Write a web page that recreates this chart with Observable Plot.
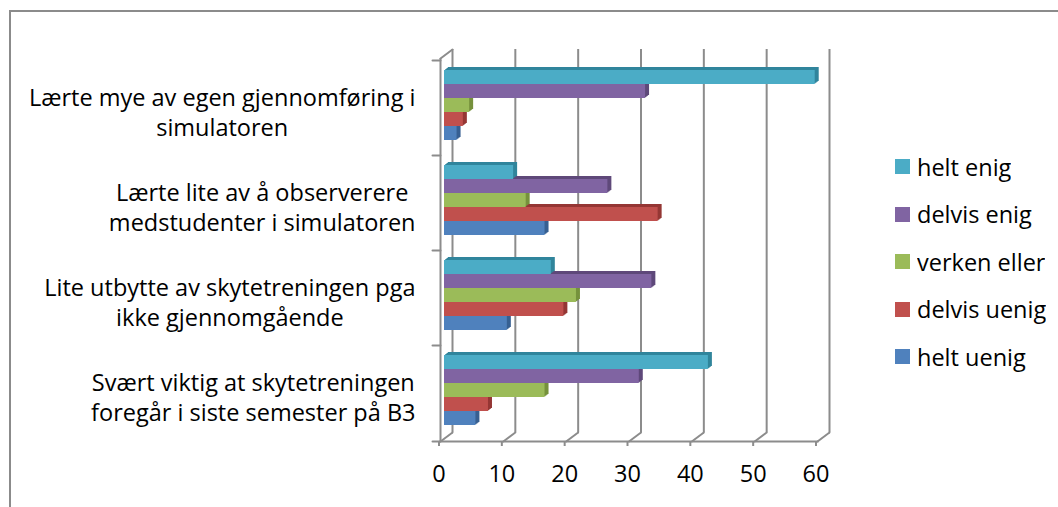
<!DOCTYPE html>
<html>
<head>
<meta charset="utf-8">
<script src="https://cdn.jsdelivr.net/npm/d3@7"></script>
<script src="https://cdn.jsdelivr.net/npm/@observablehq/plot@0.6"></script>
<style>
  html, body { margin: 0; padding: 0; background: #fff; }
  #wrap { position: relative; width: 1058px; height: 507px; overflow: hidden; font-family: "Open Sans", sans-serif; }
  #border { position: absolute; left: 9px; top: 10px; right: -4px; bottom: -4px; border-top: 2px solid #8b8b8b; border-left: 2px solid #8b8b8b; }
  .layer { position: absolute; left: 0; top: 0; }
  #legend { position: absolute; left: 895px; top: 143px; }
  .lg-swatch { height: 47.5px !important; padding: 0 !important; margin: 0 !important; display: flex !important; align-items: center !important; }
  .lg-swatch svg { margin-right: 7px !important; }
  .lg-swatches { font-family: "Open Sans", sans-serif !important; font-size: 23.5px !important; color: #000 !important; margin: 0 !important; }
</style>
</head>
<body>
<div id="wrap"><div id="border"></div><div id="walls" class="layer"></div><div id="bars" class="layer"></div><div id="legend"></div></div>
<script>
// ---- data ----
const categories = [
  "Lærte mye av egen gjennomføring i\nsimulatoren",
  "Lærte lite av å observerere\nmedstudenter i simulatoren",
  "Lite utbytte av skytetreningen pga\nikke gjennomgående",
  "Svært viktig at skytetreningen\nforegår i siste semester på B3"
];
const series = ["helt enig", "delvis enig", "verken eller", "delvis uenig", "helt uenig"];
const heltEnig    = [59, 11, 17, 42];
const delvisEnig  = [32, 26, 33, 31];
const verkenEller = [4, 13, 21, 16];
const delvisUenig = [3, 34, 19, 7];
const heltUenig   = [2, 16, 10, 5];
const xTicks = [0, 10, 20, 30, 40, 50, 60];

// ---- styles ----
const colors = ["#4BACC6", "#8064A2", "#9BBB59", "#C0504D", "#4F81BD"];
const darks  = ["#31859C", "#5F497A", "#76923C", "#953735", "#376092"];
const gridColor = "#8c8c8c";
const FONT = 23.5, FAMILY = "Open Sans";

const seriesValues = [heltEnig, delvisEnig, verkenEller, delvisUenig, heltUenig];
const data = categories.flatMap((c, i) => series.map((s, j) => ({category: c, series: s, value: seriesValues[j][i]})));
const darkOf = new Map(series.map((s, j) => [s, darks[j]]));

// 3D depth of the wall
const DX = 12, DY = -9;
const ang = Math.atan2(DX, -DY) * 180 / Math.PI;
const len = Math.hypot(DX, DY);
const lineShape = {draw(ctx, l) { ctx.moveTo(0, 0); ctx.lineTo(0, -l); }};
const lineOpts = {shape: lineShape, anchor: "start", stroke: gridColor, strokeWidth: 2};

const frameOpts = {
  width: 1058, height: 507,
  marginLeft: 440, marginRight: 241, marginTop: 58, marginBottom: 66,
  style: {fontFamily: FAMILY, fontSize: FONT + "px", background: "transparent", color: "#000", overflow: "visible"},
  x: {domain: [0, 60]}
};

// ---- layer 1: walls, gridlines, axis ----
const walls = Plot.plot({
  ...frameOpts,
  marks: [
    Plot.ruleX(xTicks, {x: d => d, stroke: gridColor, strokeWidth: 2, dx: DX, dy: DY}),
    Plot.vector(xTicks, {x: d => d, frameAnchor: "bottom", rotate: ang, length: len, ...lineOpts}),
    Plot.ruleX([0], {x: d => d, stroke: gridColor, strokeWidth: 2}),
    Plot.vector([0], {x: d => d, frameAnchor: "top", rotate: ang, length: len, ...lineOpts}),
    Plot.vector([0], {x: d => d, frameAnchor: "bottom", rotate: -90, length: 8, ...lineOpts}),
    Plot.frame({anchor: "bottom", stroke: gridColor, strokeWidth: 2}),
    Plot.axisX({ticks: xTicks, tickSize: 5, tickPadding: 19, dx: -1.5, stroke: gridColor, strokeWidth: 2, fill: "#000", fontSize: FONT, label: null})
  ]
});
document.getElementById("walls").appendChild(walls);

// ---- layer 2: bars and category labels ----
const ctx = document.createElement("canvas").getContext("2d");
ctx.font = `${FONT}px "${FAMILY}"`;
const labelMarks = categories.map(c => {
  const w = d3.max(c.split("\n"), t => ctx.measureText(t).width);
  return Plot.text([c], {fy: d => d, text: d => d, frameAnchor: "left", textAnchor: "middle",
    dx: -(25 + w / 2), dy: 3, lineHeight: 1.3, fontSize: FONT, fill: "#000"});
});
const extrusions = [4, 3, 2, 1].map(k => Plot.barX(data, {
  x: "value", y: "series", fy: "category",
  fill: {value: d => darkOf.get(d.series), scale: null},
  dx: 4 + k, dy: -3 - 0.75 * k
}));

const bars = Plot.plot({
  ...frameOpts,
  x: {domain: [0, 60], axis: null},
  fy: {domain: categories, padding: 0, axis: null},
  y: {domain: series, padding: 0, insetTop: 11.6, insetBottom: 11.6, axis: null},
  color: {domain: series, range: colors},
  marks: [
    Plot.vector(categories, {x: () => 0, fy: d => d, frameAnchor: "top", rotate: -90, length: 8, ...lineOpts}),
    ...extrusions,
    Plot.barX(data, {x: "value", y: "series", fy: "category", fill: "series", dx: 4, dy: -3}),
    ...labelMarks
  ]
});
document.getElementById("bars").appendChild(bars);

const legend = Plot.legend({
  color: {domain: series, range: colors},
  legend: "swatches", columns: 1, swatchSize: 15, className: "lg",
  style: {fontFamily: FAMILY, fontSize: FONT + "px", color: "#000"}
});
document.getElementById("legend").appendChild(legend);
</script>
</body>
</html>
